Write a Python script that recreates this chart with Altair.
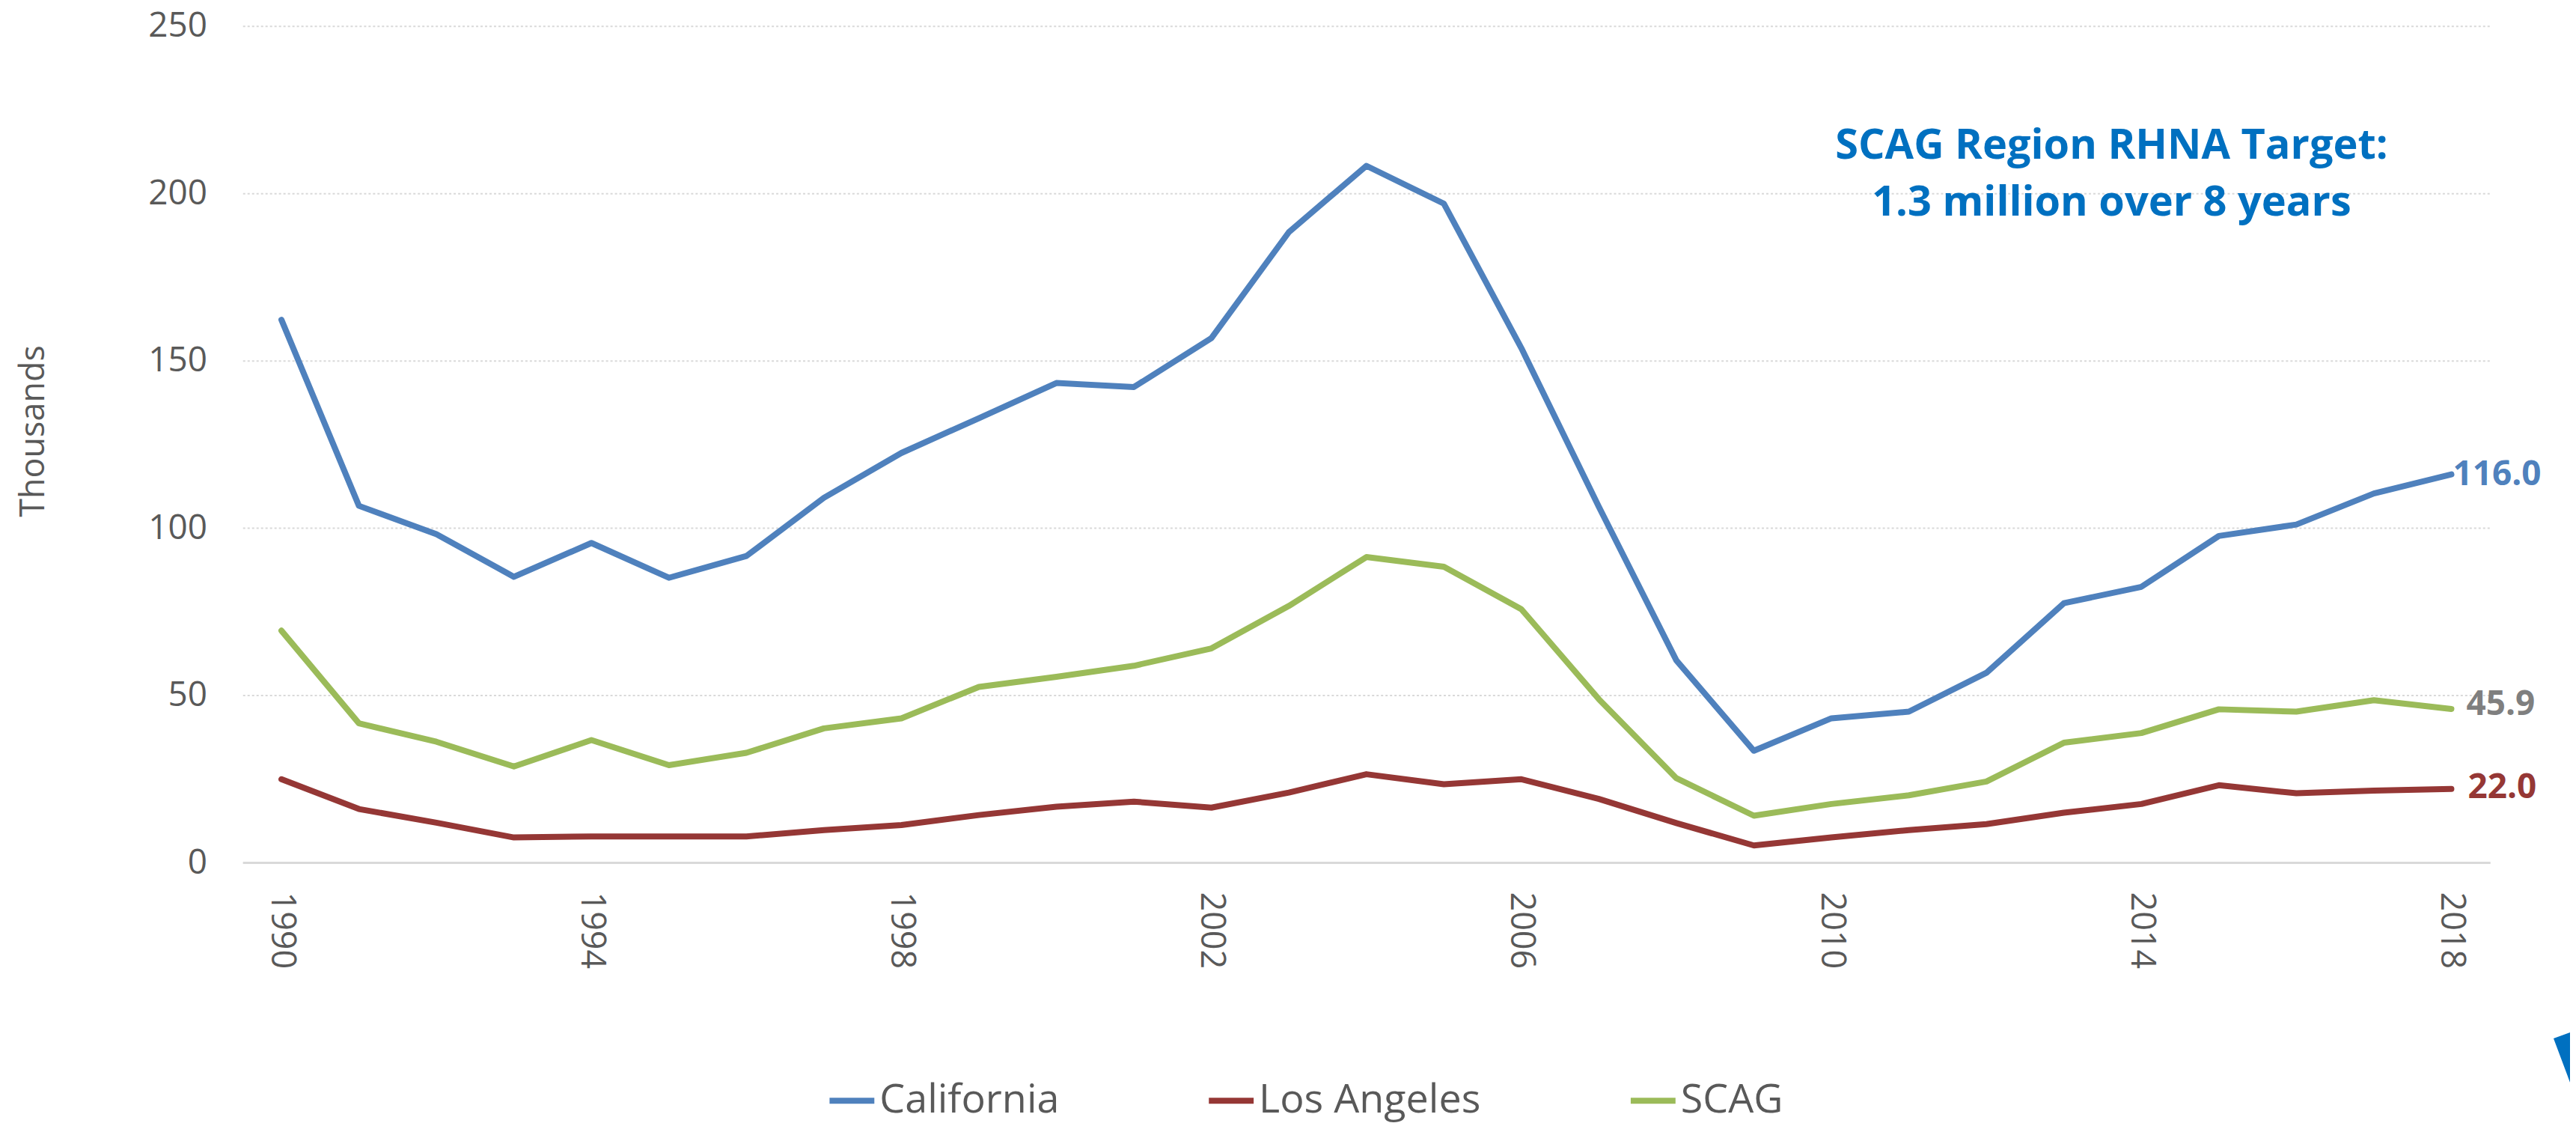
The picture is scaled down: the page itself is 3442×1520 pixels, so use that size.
import altair as alt
import pandas as pd

YEARS = list(range(1990, 2019))
TICK_YEARS = [1990, 1994, 1998, 2002, 2006, 2010, 2014, 2018]
Y_TICKS = [0, 50, 100, 150, 200, 250]

CALIFORNIA = [162.2, 106.6, 98.1, 85.4, 95.5, 85.1, 91.6, 109.0, 122.4, 132.8, 143.3,
              142.1, 156.7, 188.4, 208.2, 196.9, 153.7, 106.3, 60.4, 33.4, 43.1,
              45.1, 56.7, 77.5, 82.4, 97.6, 101.0, 110.3, 116.0]
LOS_ANGELES = [24.9, 16.0, 11.9, 7.5, 7.8, 7.8, 7.8, 9.7, 11.2, 14.2, 16.7,
               18.2, 16.4, 20.9, 26.4, 23.4, 24.9, 19.0, 11.8, 5.1, 7.5,
               9.7, 11.5, 14.9, 17.5, 23.1, 20.7, 21.5, 22.0]
SCAG = [69.3, 41.6, 36.1, 28.7, 36.6, 29.1, 32.8, 40.1, 43.1, 52.5, 55.5,
        58.8, 64.0, 76.7, 91.3, 88.4, 75.7, 48.8, 25.2, 14.0, 17.5,
        20.1, 24.2, 35.8, 38.7, 45.8, 45.1, 48.5, 45.9]

SERIES = ["California", "Los Angeles", "SCAG"]
LINE_COLORS = ["#4F81BD", "#953735", "#9BBB59"]
END_LABEL_COLORS = ["#4F81BD", "#953735", "#7F7F7F"]
END_LABEL_DX = [2, 22, 20]
END_LABEL_DY = [0, -2, -6]

ANNOT_LINES = ["SCAG Region RHNA Target:", "1.3 million over 8 years"]

FONT = "Open Sans"
GREY = "#595959"

rows = []
for name, vals in zip(SERIES, [CALIFORNIA, LOS_ANGELES, SCAG]):
    for yr, v in zip(YEARS, vals):
        rows.append({"year": yr, "series": name, "value": v})
df = pd.DataFrame(rows)

x_enc = alt.X(
    "year:O",
    title=None,
    axis=alt.Axis(
        values=TICK_YEARS, labelAngle=90, labelFontSize=45, labelFont=FONT,
        labelColor=GREY, labelPadding=39, ticks=False, domain=True,
        domainColor="#D9D9D9", domainWidth=3, grid=False, labelOverlap=False,
        labelAlign="left", labelBaseline="middle",
    ),
)
y_enc = alt.Y(
    "value:Q",
    title="Thousands",
    scale=alt.Scale(domain=[0, 250], nice=False),
    axis=alt.Axis(
        values=Y_TICKS, labelFontSize=46, labelFont=FONT, labelColor=GREY,
        labelPadding=48, ticks=False, domain=False, grid=True,
        gridColor="#D9D9D9", gridDash=[3, 3], gridWidth=2,
        titleFontSize=45, titleFont=FONT, titleColor=GREY, titleFontWeight="normal",
        titleX=-280, titleY=542, titleAngle=270, titleAlign="center",
        titleBaseline="middle",
    ),
)

lines = alt.Chart(df).mark_line(strokeWidth=8, strokeCap="round", strokeJoin="round").encode(
    x=x_enc,
    y=y_enc,
    color=alt.Color(
        "series:N",
        scale=alt.Scale(domain=SERIES, range=LINE_COLORS),
        legend=alt.Legend(
            title=None, orient="none", legendX=782, legendY=1405,
            direction="horizontal", symbolType="stroke", symbolSize=3600,
            symbolStrokeWidth=8, labelFontSize=54, labelFont=FONT,
            labelColor=GREY, labelOffset=3, columnPadding=184, labelLimit=0,
            padding=0,
        ),
    ),
    order=alt.Order("year:O"),
)

layers = [lines]
end_df = df[df["year"] == YEARS[-1]]
for name, col, dx, dy in zip(SERIES, END_LABEL_COLORS, END_LABEL_DX, END_LABEL_DY):
    sub = end_df[end_df["series"] == name]
    layers.append(
        alt.Chart(sub).mark_text(
            align="left", baseline="middle", dx=dx, dy=dy, fontSize=46,
            fontWeight="bold", font=FONT, color=col,
        ).encode(x=x_enc, y=y_enc, text=alt.Text("value:Q", format=".1f"))
    )

annot_df = pd.DataFrame({"k": [0]})
for line_text, ypx in zip(ANNOT_LINES, [178, 254]):
    layers.append(
        alt.Chart(annot_df).mark_text(
            text=line_text, align="center", baseline="alphabetic", fontSize=56,
            fontWeight="bold", font=FONT, color="#0070C0",
        ).encode(x=alt.value(2503), y=alt.value(ypx))
    )

# small fragment of a logo visible in the bottom-right corner
layers.append(
    alt.Chart(annot_df).mark_point(
        shape="M-0.33,-0.76 L0.33,-1 L0.33,1 Z", filled=True, opacity=1,
        color="#0070C0", size=4489, strokeWidth=0,
    ).encode(x=alt.value(3106), y=alt.value(1381))
)

chart = alt.layer(*layers).properties(
    width=3010,
    height=1120,
    autosize=alt.AutoSizeParams(type="none"),
    padding={"left": 317, "top": 25, "right": 107, "bottom": 355},
    background="white",
).configure_view(stroke=None)

chart.save("out.html", embed_options={"renderer": "svg", "actions": False})
